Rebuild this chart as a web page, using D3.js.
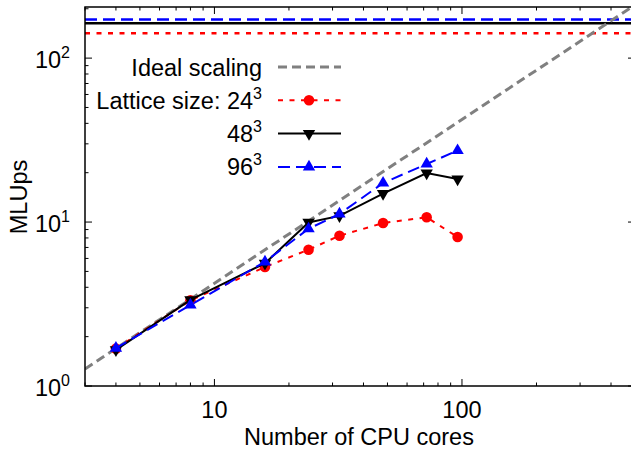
<!DOCTYPE html>
<html>
<head>
<meta charset="utf-8">
<script src="https://cdn.jsdelivr.net/npm/d3@7"></script>
<style>
  body { margin: 0; background: #fff; }
  text { font-family: "Liberation Sans", Arial, sans-serif; fill: #000; }
</style>
</head>
<body>
<div id="chart"></div>
<script>
// cores used in the runs
let cores = [4, 8, 16, 24, 32, 48, 72, 96];

// measured MLUps for each lattice size
let mlups24 = [1.69, 3.33, 5.32, 6.78, 8.25, 9.86, 10.7, 8.1];
let mlups48 = [1.66, 3.35, 5.6, 9.95, 10.9, 14.9, 19.9, 18.3];
let mlups96 = [1.70, 3.12, 5.72, 9.1, 11.2, 17.3, 22.6, 27.3];

// peak values drawn as horizontal lines at the top
let peak24 = 141.6;
let peak48 = 163;
let peak96 = 172;

// ideal scaling end points
let idealX = [3, 500];
let idealY = [1.27, 211];

let xTicks = [10, 100];
let yTicks = [1, 10, 100];

// svg size is the browser window
let svg_width = 631;
let svg_height = 451;

let margin = {left: 85, right: -4, top: 7, bottom: 65};
let font_size = 23.5;
let sup_size = 16;

let svg = d3.select('#chart')
    .append('svg')
    .attr('width', svg_width)
    .attr('height', svg_height);

let x = d3.scaleLog()
    .domain([3, 500])
    .range([margin.left, svg_width - margin.right]);

let y = d3.scaleLog()
    .domain([1, 205])
    .range([svg_height - margin.bottom, margin.top]);

let x0 = x.range()[0], x1 = x.range()[1];
let y0 = y.range()[0], y1 = y.range()[1];

svg.append('clipPath').attr('id', 'clip')
    .append('rect')
    .attr('x', x0).attr('y', y1)
    .attr('width', x1 - x0).attr('height', y0 - y1);

let plot = svg.append('g').attr('clip-path', 'url(#clip)');

// minor / major ticks, mirrored on all sides (gnuplot style)
let xMinor = [];
[1, 10, 100].forEach(function(d){
    for (let k = 1; k < 10; k++) {
        let v = d * k;
        if (v >= 3 && v <= 500) xMinor.push(v);
    }
});
let yMinor = [];
[1, 10, 100].forEach(function(d){
    for (let k = 1; k < 10; k++) {
        let v = d * k;
        if (v >= 1 && v <= 205) yMinor.push(v);
    }
});

let ticks = svg.append('g').attr('stroke', '#000').attr('stroke-width', 1);
xMinor.forEach(function(v){
    let len = xTicks.includes(v) ? 7 : 3.5;
    ticks.append('line').attr('x1', x(v)).attr('x2', x(v)).attr('y1', y0).attr('y2', y0 - len);
    ticks.append('line').attr('x1', x(v)).attr('x2', x(v)).attr('y1', y1).attr('y2', y1 + len);
});
yMinor.forEach(function(v){
    let len = yTicks.includes(v) ? 7 : 3.5;
    ticks.append('line').attr('x1', x0).attr('x2', x0 + len).attr('y1', y(v)).attr('y2', y(v));
    ticks.append('line').attr('x1', x1).attr('x2', x1 - len).attr('y1', y(v)).attr('y2', y(v));
});

// frame
svg.append('rect')
    .attr('x', x0).attr('y', y1)
    .attr('width', x1 - x0).attr('height', y0 - y1)
    .attr('fill', 'none')
    .attr('stroke', '#000')
    .attr('stroke-width', 1.5);

// tick labels
svg.selectAll('.xlab')
    .data(xTicks)
    .enter()
    .append('text')
    .attr('x', function(d){ return x(d); })
    .attr('y', y0 + 32)
    .attr('text-anchor', 'middle')
    .attr('font-size', font_size)
    .text(function(d){ return d; });

let ylab = svg.selectAll('.ylab')
    .data(yTicks)
    .enter()
    .append('text')
    .attr('x', x0 - 15)
    .attr('y', function(d){ return y(d) + 10; })
    .attr('text-anchor', 'end')
    .attr('font-size', font_size);
ylab.append('tspan').text('10');
ylab.append('tspan')
    .attr('dy', -10)
    .attr('font-size', sup_size)
    .text(function(d){ return Math.round(Math.log10(d)); });

// axis titles
svg.append('text')
    .attr('x', 359)
    .attr('y', y0 + 59)
    .attr('text-anchor', 'middle')
    .attr('font-size', font_size)
    .text('Number of CPU cores');

svg.append('text')
    .attr('transform', 'translate(27,197) rotate(-90)')
    .attr('text-anchor', 'middle')
    .attr('font-size', font_size)
    .text('MLUps');

// series styles
let series = [
    {name: 'Lattice size: 24', vals: mlups24, peak: peak24, color: '#ff0000', dash: '5,6.5', marker: 'circle'},
    {name: '48', vals: mlups48, peak: peak48, color: '#000000', dash: null, marker: 'down'},
    {name: '96', vals: mlups96, peak: peak96, color: '#0000ff', dash: '12,6', marker: 'up'}
];

// peak lines
series.forEach(function(s){
    plot.append('line')
        .attr('x1', x0).attr('x2', x1)
        .attr('y1', y(s.peak)).attr('y2', y(s.peak))
        .attr('stroke', s.color)
        .attr('stroke-width', 2.5)
        .attr('stroke-dasharray', s.dash);
});

// ideal scaling
plot.append('line')
    .attr('x1', x(idealX[0])).attr('y1', y(idealY[0]))
    .attr('x2', x(idealX[1])).attr('y2', y(idealY[1]))
    .attr('stroke', '#808080')
    .attr('stroke-width', 3)
    .attr('stroke-dasharray', '9,5');

let line = d3.line()
    .x(function(d){ return x(d[0]); })
    .y(function(d){ return y(d[1]); });

function drawMarker(g, kind, cx, cy, color){
    if (kind == 'circle') {
        g.append('circle').attr('cx', cx).attr('cy', cy).attr('r', 5.3).attr('fill', color);
    } else {
        let sym = d3.symbol().type(d3.symbolTriangle).size(66);
        g.append('path')
            .attr('d', sym())
            .attr('transform', 'translate(' + cx + ',' + cy + ')' + (kind == 'down' ? ' rotate(180)' : ''))
            .attr('fill', color);
    }
}

series.forEach(function(s){
    let pts = cores.map(function(c, i){ return [c, s.vals[i]]; });
    plot.append('path')
        .datum(pts)
        .attr('d', line)
        .attr('fill', 'none')
        .attr('stroke', s.color)
        .attr('stroke-width', 2)
        .attr('stroke-dasharray', s.dash);
    pts.forEach(function(p){
        drawMarker(plot, s.marker, x(p[0]), y(p[1]), s.color);
    });
});

// legend
let legX = 262, legY = 67, legStep = 33.3;
let leg = svg.append('g');
let entries = [{name: 'Ideal scaling', color: '#808080', dash: '9,5', marker: null, width: 3}]
    .concat(series.map(function(s){ return {name: s.name, color: s.color, dash: s.dash, marker: s.marker, width: 2, sup: true}; }));

entries.forEach(function(e, i){
    let ly = legY + i * legStep;
    let t = leg.append('text')
        .attr('x', legX)
        .attr('y', ly + 8.5)
        .attr('text-anchor', 'end')
        .attr('font-size', font_size);
    t.append('tspan').text(e.name);
    if (e.sup) t.append('tspan').attr('dy', -10).attr('font-size', sup_size).text('3');
    leg.append('line')
        .attr('x1', legX + 16).attr('x2', legX + 79)
        .attr('y1', ly).attr('y2', ly)
        .attr('stroke', e.color)
        .attr('stroke-width', e.width)
        .attr('stroke-dasharray', e.dash);
    if (e.marker) drawMarker(leg, e.marker, legX + 47, ly, e.color);
});
</script>
</body>
</html>
